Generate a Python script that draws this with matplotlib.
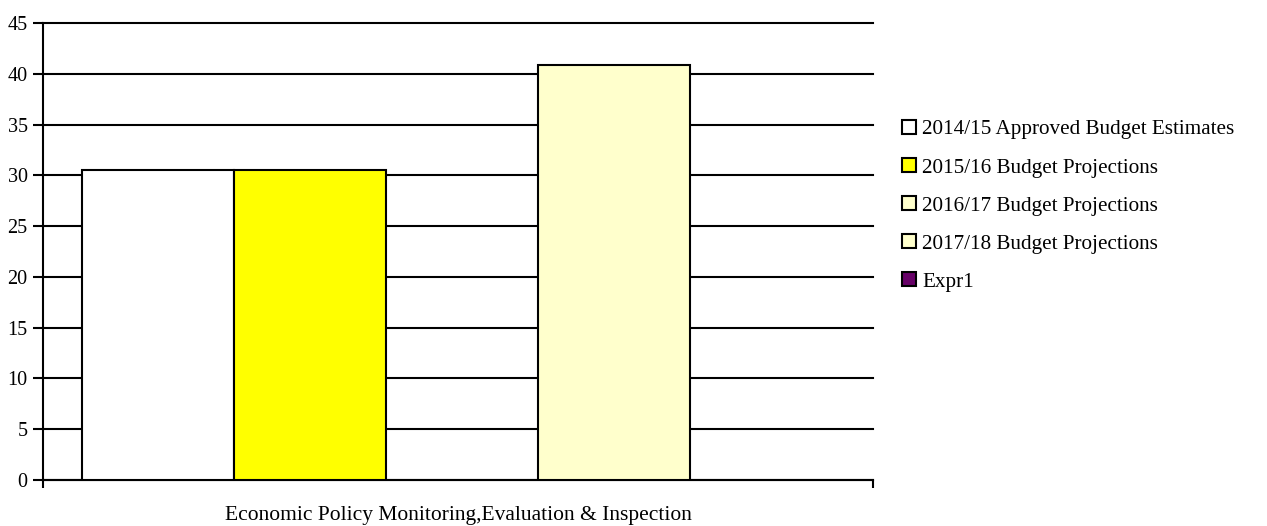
import matplotlib.pyplot as plt
import numpy as np
from matplotlib.patches import Patch

plt.rcParams['font.family'] = ['Liberation Serif', 'DejaVu Serif']

category = "Economic Policy Monitoring,Evaluation & Inspection"
series = ["2014/15 Approved Budget Estimates", "2015/16 Budget Projections",
          "2016/17 Budget Projections", "2017/18 Budget Projections", "Expr1"]
values = [30.5, 30.5, 0, 40.9, 0]
colors = ["#ffffff", "#ffff00", "#ffffcc", "#ffffcc", "#660066"]

fig = plt.figure(figsize=(12.67, 5.26), dpi=100)
ax = fig.add_axes([43 / 1267, 1 - 480 / 526, 830 / 1267, 457 / 526])

w = 152 / 830
start = -0.5 + 39 / 830
for i, (v, c) in enumerate(zip(values, colors)):
    x = start + w * i
    if v > 0:
        ax.bar(x, v, width=w, align='edge', color=c, edgecolor='black', linewidth=1.5, zorder=3)

ax.set_xlim(-0.5, 0.5)
ax.set_ylim(0, 45)
ax.set_yticks(np.arange(0, 46, 5))
ax.yaxis.grid(True, color='black', linewidth=1.5, zorder=0)
for gl in ax.get_ygridlines():
    gl.set_clip_on(False)
ax.set_axisbelow(True)
ax.set_xticks([0])
ax.set_xticklabels([category])
ax.xaxis.set_minor_locator(plt.FixedLocator([-0.5, 0.5]))
ax.tick_params(axis='x', which='major', length=0, labelsize=15.5, pad=19)
ax.tick_params(axis='x', which='minor', length=6, width=1.5, direction='out')
ax.tick_params(axis='y', length=7, width=1.5, direction='out', labelsize=14.5, pad=4)
for s in ['top', 'right']:
    ax.spines[s].set_visible(False)
ax.spines['left'].set_linewidth(1.5)
ax.spines['bottom'].set_linewidth(1.5)

handles = [Patch(facecolor=c, edgecolor='black', linewidth=1.5) for c in colors]
fig.legend(handles, series, loc='upper left', bbox_to_anchor=(902 / 1267, 1 - 120 / 526),
           frameon=False, fontsize=15.2, handlelength=0.65, handleheight=0.65,
           handletextpad=0.3, labelspacing=0.88, borderaxespad=0, borderpad=0)

fig.savefig("out.png", dpi=100)
